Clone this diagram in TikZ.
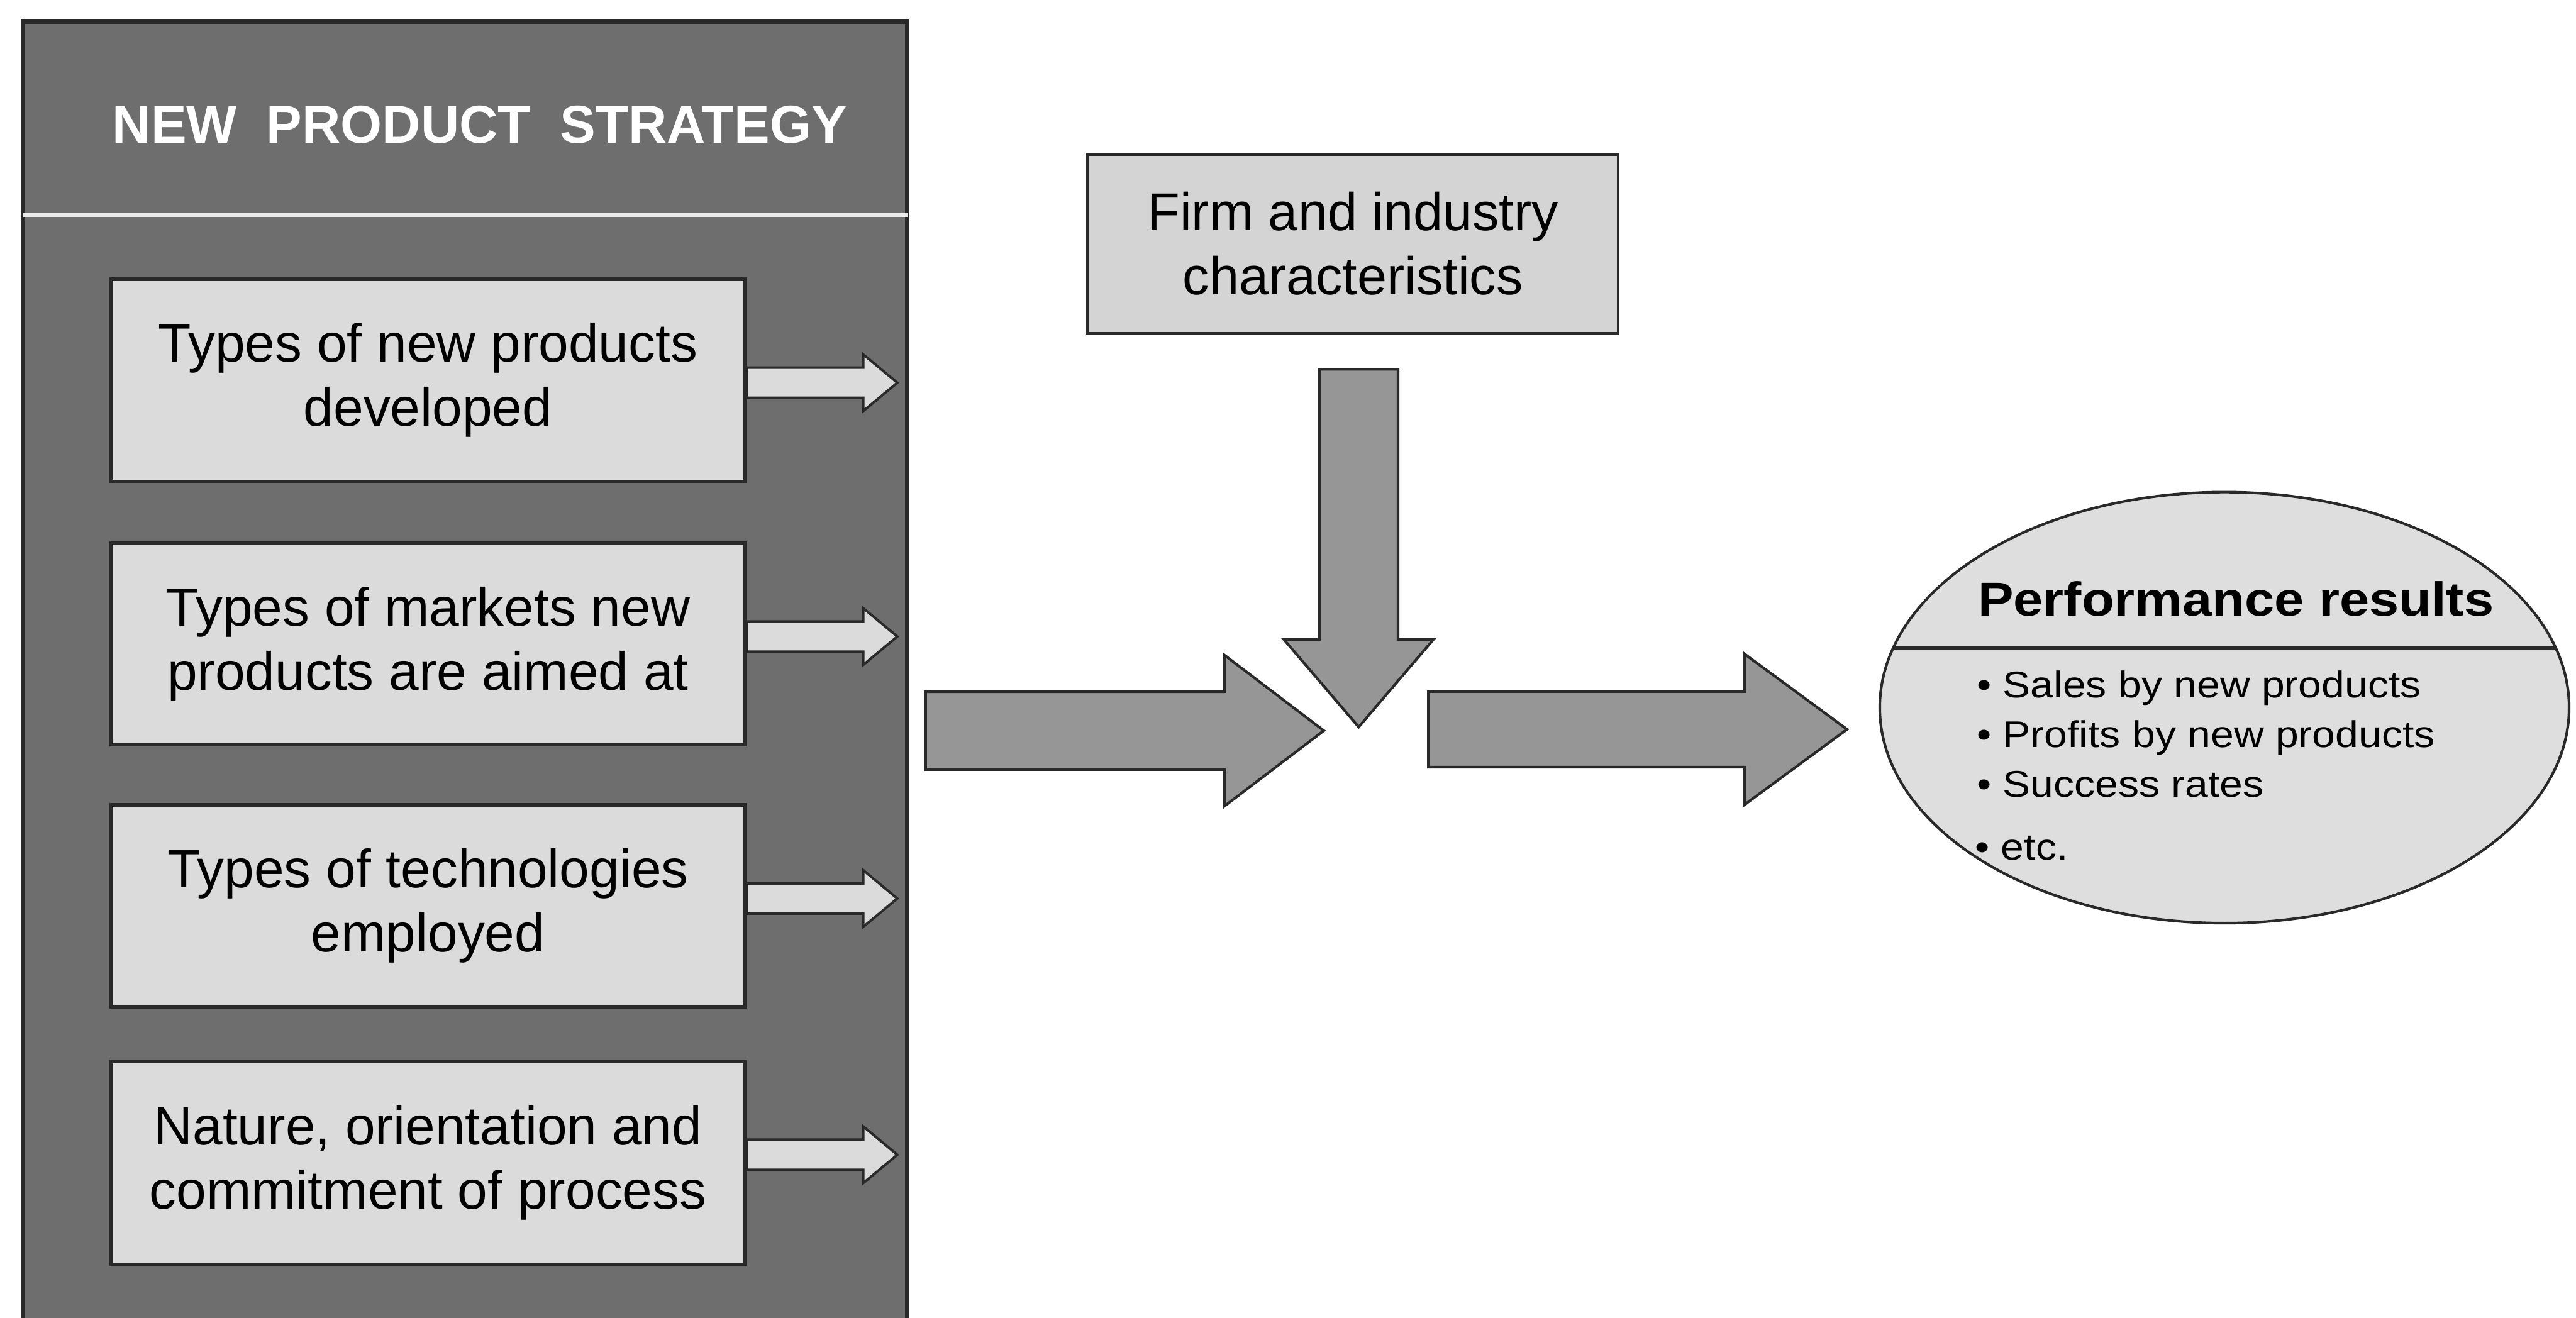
\documentclass[tikz,border=0pt]{standalone}
\usepackage{fontspec}
\setmainfont{Liberation Sans}
\newfontfamily\headsans[FakeStretch=1.12]{Liberation Sans}
\usetikzlibrary{shapes.geometric,calc}

\definecolor{panelgray}{gray}{0.43}
\definecolor{boxgray}{gray}{0.86}
\definecolor{firmgray}{gray}{0.83}
\definecolor{arrowgray}{gray}{0.59}
\definecolor{ovalgray}{gray}{0.87}
\definecolor{edgegray}{gray}{0.16}

\begin{document}
\begin{tikzpicture}[x=1pt,y=-1pt,
  panelbox/.style={draw=edgegray, line width=2.4pt, fill=panelgray, rectangle, inner sep=0pt, anchor=north west},
  itembox/.style={draw=edgegray, line width=2pt, fill=boxgray, rectangle, minimum width=386pt, minimum height=123pt,
    inner sep=0pt, align=center, font=\fontsize{32.8}{39}\selectfont},
  firmbox/.style={draw=edgegray, line width=1.8pt, fill=firmgray, rectangle, minimum width=323pt, minimum height=109pt,
    inner sep=0pt, align=center, font=\fontsize{32.4}{39}\selectfont},
  smallarr/.style={draw=edgegray, line width=1.5pt, fill=boxgray, line join=miter},
  bigarr/.style={draw=edgegray, line width=1.6pt, fill=arrowgray, line join=miter},
  oval/.style={ellipse, draw=edgegray, line width=1.6pt, fill=ovalgray, inner sep=0pt},
  bullet/.style={anchor=base west, inner sep=0pt, font=\headsans\fontsize{22.6}{30}\selectfont},
]
\useasboundingbox (0,0) rectangle (1568,802);
\fill[white] (0,0) rectangle (1568,802);

% strategy panel with its heading
\node[panelbox, minimum width=538pt, minimum height=800pt] (panel) at (13,12) {};
\node[text=white, font=\bfseries\fontsize{32.5}{39}\selectfont] (title) at (292,76) {NEW\ \ PRODUCT\ \ STRATEGY};
\coordinate (sepL) at ($(panel.north west)+(1,119)$);
\coordinate (sepR) at ($(panel.north east)+(-1,119)$);
\draw[line width=2.4pt, draw=white!92!black] (sepL) -- (sepR);

% the four strategy dimensions
\node[itembox] (b1) at (260.5,231.5) {Types of new products\\developed};
\node[itembox] (b2) at (260.5,392) {Types of markets new\\products are aimed at};
\node[itembox] (b3) at (260.5,551.5) {Types of technologies\\employed};
\node[itembox] (b4) at (260.5,708) {Nature, orientation and\\commitment of process};

% small outlined arrows leaving each dimension
\foreach \b/\dy in {b1/1.5, b2/-4.5, b3/-4.5, b4/-5} {
  \draw[smallarr] ($(\b.east)+(0,\dy)$) ++(0,-9.2) -- ++(71,0) -- ++(0,-8) -- ++(20.7,17.2)
    -- ++(-20.7,17.2) -- ++(0,-8) -- ++(-71,0) -- cycle;
}

% firm and industry characteristics
\node[firmbox] (firm) at (823.5,148.4) {Firm and industry\\characteristics};

% block arrows meeting in the middle
\coordinate (dtop) at ($(firm.south)+(3.5,21)$);
\draw[bigarr] (dtop) ++(-24,0) -- ++(0,164.5) -- ++(-21.5,0) -- ++(45.5,53.3)
  -- ++(45.5,-53.3) -- ++(-21.5,0) -- ++(0,-164.5) -- cycle;

\coordinate (lstart) at ($(panel.east |- 0,444.8)+(10,0)$);
\draw[bigarr] (lstart) ++(0,-23.7) -- ++(182,0) -- ++(0,-22.2) -- ++(60.4,45.9)
  -- ++(-60.4,45.9) -- ++(0,-22.2) -- ++(-182,0) -- cycle;

\coordinate (rstart) at (869.4,444);
\draw[bigarr] (rstart) ++(0,-23) -- ++(192.6,0) -- ++(0,-22.8) -- ++(62.3,45.8)
  -- ++(-62.3,45.8) -- ++(0,-22.8) -- ++(-192.6,0) -- cycle;

% performance results
\node[oval, minimum width=419.6pt, minimum height=262.4pt] (res) at (1354,430.8) {};
\begin{scope}
  \clip (res.center) ellipse [x radius=209.8, y radius=131.2];
  \draw[draw=edgegray, line width=1.6pt] (res.west |- 0,394.5) -- (res.east |- 0,394.5);
\end{scope}
\node[anchor=base, inner sep=0pt, font=\headsans\bfseries\fontsize{29}{34}\selectfont] (restitle) at (1361,375) {Performance results};
\node[bullet] (r1) at (1203,424.6) {• Sales by new products};
\node[bullet] (r2) at (1203,455) {• Profits by new products};
\node[bullet] (r3) at (1203,485.3) {• Success rates};
\node[bullet] (r4) at (1202,523.5) {• etc.};
\end{tikzpicture}
\end{document}
